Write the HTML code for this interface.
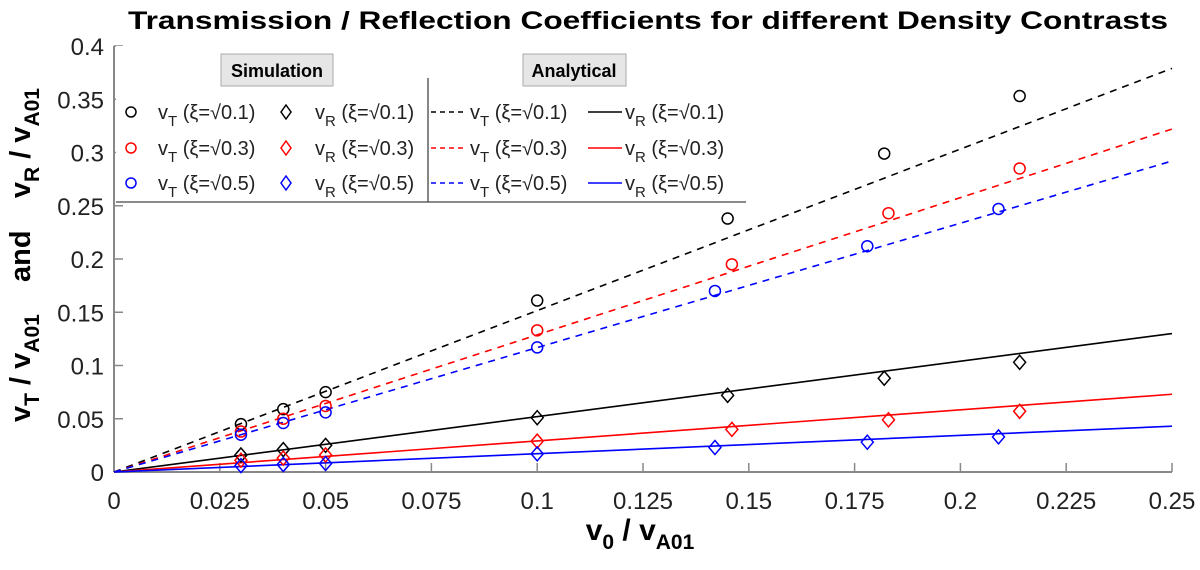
<!DOCTYPE html>
<html><head><meta charset="utf-8"><style>
body{margin:0;background:#fff;}
svg{display:block;font-family:"Liberation Sans",sans-serif;}
</style></head><body>
<svg id="chart" width="1200" height="570">
<text x="648" y="29" text-anchor="middle" font-size="25" font-weight="bold" textLength="1040" lengthAdjust="spacingAndGlyphs">Transmission / Reflection Coefficients for different Density Contrasts</text>
<g id="axes"></g>
<g id="marks"></g>
<text x="640" y="540" text-anchor="middle" font-size="30" font-weight="bold">v<tspan font-size="21" dy="9">0</tspan><tspan dy="-9"> / v</tspan><tspan font-size="21" dy="9">A01</tspan></text>
<text transform="translate(30,255) rotate(-90)" text-anchor="middle" font-size="29" font-weight="bold" xml:space="preserve">v<tspan font-size="21" dy="9">T</tspan><tspan dy="-9"> / v</tspan><tspan font-size="21" dy="9">A01</tspan><tspan dy="-9">    and    v</tspan><tspan font-size="21" dy="9">R</tspan><tspan dy="-9"> / v</tspan><tspan font-size="21" dy="9">A01</tspan></text>
<g id="legend"></g>
</svg>
<script>
const xTicks=[0,0.025,0.05,0.075,0.1,0.125,0.15,0.175,0.2,0.225,0.25];
const xTickLabels=["0","0.025","0.05","0.075","0.1","0.125","0.15","0.175","0.2","0.225","0.25"];
const yTicks=[0,0.05,0.1,0.15,0.2,0.25,0.3,0.35,0.4];
const yTickLabels=["0","0.05","0.1","0.15","0.2","0.25","0.3","0.35","0.4"];
const seriesNames=["xi01","xi03","xi05"];
const colors=["#000","#f00","#00f"];
const simX_01=[0.03,0.04,0.05,0.1,0.145,0.182,0.214];
const simX_03=[0.03,0.04,0.05,0.1,0.146,0.183,0.214];
const simX_05=[0.03,0.04,0.05,0.1,0.142,0.178,0.209];
const simVT_01=[0.045,0.059,0.075,0.161,0.238,0.299,0.353];
const simVT_03=[0.038,0.050,0.062,0.133,0.195,0.243,0.285];
const simVT_05=[0.035,0.046,0.056,0.117,0.170,0.212,0.247];
const simVR_01=[0.016,0.021,0.025,0.051,0.072,0.088,0.103];
const simVR_03=[0.011,0.013,0.016,0.029,0.040,0.049,0.057];
const simVR_05=[0.006,0.007,0.008,0.017,0.023,0.028,0.033];
const anaX=[0,0.25];
const anaVT_01=[0,0.379];
const anaVT_03=[0,0.322];
const anaVT_05=[0,0.292];
const anaVR_01=[0,0.130];
const anaVR_03=[0,0.073];
const anaVR_05=[0,0.043];

const X0=114,X1=1172,Y0=472,Y1=46;
const sx=v=>X0+(v-0)/(0.25)*(X1-X0);
const sy=v=>Y0-(v/0.4)*(Y0-Y1);
const NS="http://www.w3.org/2000/svg";
function mk(tag,attrs,parent){const e=document.createElementNS(NS,tag);for(const k in attrs)e.setAttribute(k,attrs[k]);parent.appendChild(e);return e;}
const axes=document.getElementById('axes'),marks=document.getElementById('marks'),leg=document.getElementById('legend');

let a=mk('line',{x1:X0,y1:Y0,x2:X1,y2:Y0,stroke:'#888','stroke-width':2},axes);


a=mk('line',{x1:X0,y1:Y0,x2:X0,y2:Y1,stroke:'#888','stroke-width':2},axes);


xTicks.forEach((v,i)=>{
  mk('line',{x1:sx(v),y1:Y0,x2:sx(v),y2:Y0-9,stroke:'#888','stroke-width':1.5},axes);
  const t=mk('text',{x:sx(v),y:509,'text-anchor':'middle','font-size':24,fill:'#222'},axes);
  t.textContent=xTickLabels[i];
  
  
});
yTicks.forEach((v,i)=>{
  mk('line',{x1:X0,y1:sy(v),x2:X0+9,y2:sy(v),stroke:'#888','stroke-width':1.5},axes);
  const t=mk('text',{x:104,y:sy(v)+9,'text-anchor':'end','font-size':24,fill:'#222'},axes);
  t.textContent=yTickLabels[i];
  
  
});

const simX=[simX_01,simX_03,simX_05],simVT=[simVT_01,simVT_03,simVT_05],simVR=[simVR_01,simVR_03,simVR_05];
const anaVT=[anaVT_01,anaVT_03,anaVT_05],anaVR=[anaVR_01,anaVR_03,anaVR_05];
for(let s=0;s<3;s++){
  let l=mk('line',{x1:sx(anaX[0]),y1:sy(anaVT[s][0]),x2:sx(anaX[1]),y2:sy(anaVT[s][1]),stroke:colors[s],'stroke-width':1.6,'stroke-dasharray':'7,6'},marks);
  
  
  l=mk('line',{x1:sx(anaX[0]),y1:sy(anaVR[s][0]),x2:sx(anaX[1]),y2:sy(anaVR[s][1]),stroke:colors[s],'stroke-width':1.6},marks);
  
  
}
for(let s=0;s<3;s++){
  simX[s].forEach((x,i)=>{
    const c=mk('circle',{cx:sx(x),cy:sy(simVT[s][i]),r:5.5,fill:'none',stroke:colors[s],'stroke-width':1.5},marks);
    
    
    const px=sx(x),py=sy(simVR[s][i]);
    const d=mk('polygon',{points:`${px},${py-7} ${px+6},${py} ${px},${py+7} ${px-6},${py}`,fill:'none',stroke:colors[s],'stroke-width':1.5},marks);
    
    
  });
}

// legend
mk('rect',{x:116,y:46,width:630,height:156,fill:'#fff'},leg);
mk('line',{x1:116,y1:202,x2:746,y2:202,stroke:'#444','stroke-width':1.3},leg);
mk('line',{x1:428,y1:78,x2:428,y2:202,stroke:'#444','stroke-width':1.3},leg);
let b=mk('rect',{x:221,y:54,width:112,height:32,fill:'#e6e6e6',stroke:'#aaa'},leg);


let bt=mk('text',{x:277,y:77,'text-anchor':'middle','font-size':18,'font-weight':'bold'},leg);bt.textContent='Simulation';
b=mk('rect',{x:523,y:54,width:103,height:32,fill:'#e6e6e6',stroke:'#aaa'},leg);


bt=mk('text',{x:574,y:77,'text-anchor':'middle','font-size':18,'font-weight':'bold'},leg);bt.textContent='Analytical';
const xiLabels=["0.1","0.3","0.5"];
const rowsY=[112,148,183];
function lab(x,y,sub,xi){
  const t=mk('text',{x:x,y:y+7,'font-size':20,fill:'#222'},leg);
  t.innerHTML=`v<tspan font-size="15" dy="7">${sub}</tspan><tspan dy="-7"> (ξ=√${xi})</tspan>`;
  
  
}
for(let s=0;s<3;s++){
  const y=rowsY[s],c=colors[s];
  mk('circle',{cx:131,cy:y,r:5,fill:'none',stroke:c,'stroke-width':1.5},leg);
  lab(158,y,'T',xiLabels[s]);
  mk('polygon',{points:`286,${y-7} 291,${y} 286,${y+7} 281,${y}`,fill:'none',stroke:c,'stroke-width':1.5},leg);
  lab(315,y,'R',xiLabels[s]);
  mk('line',{x1:431,y1:y,x2:467,y2:y,stroke:c,'stroke-width':1.5,'stroke-dasharray':'5,4'},leg);
  lab(470,y,'T',xiLabels[s]);
  mk('line',{x1:588,y1:y,x2:622,y2:y,stroke:c,'stroke-width':1.5},leg);
  lab(625,y,'R',xiLabels[s]);
}
</script>
</body></html>
